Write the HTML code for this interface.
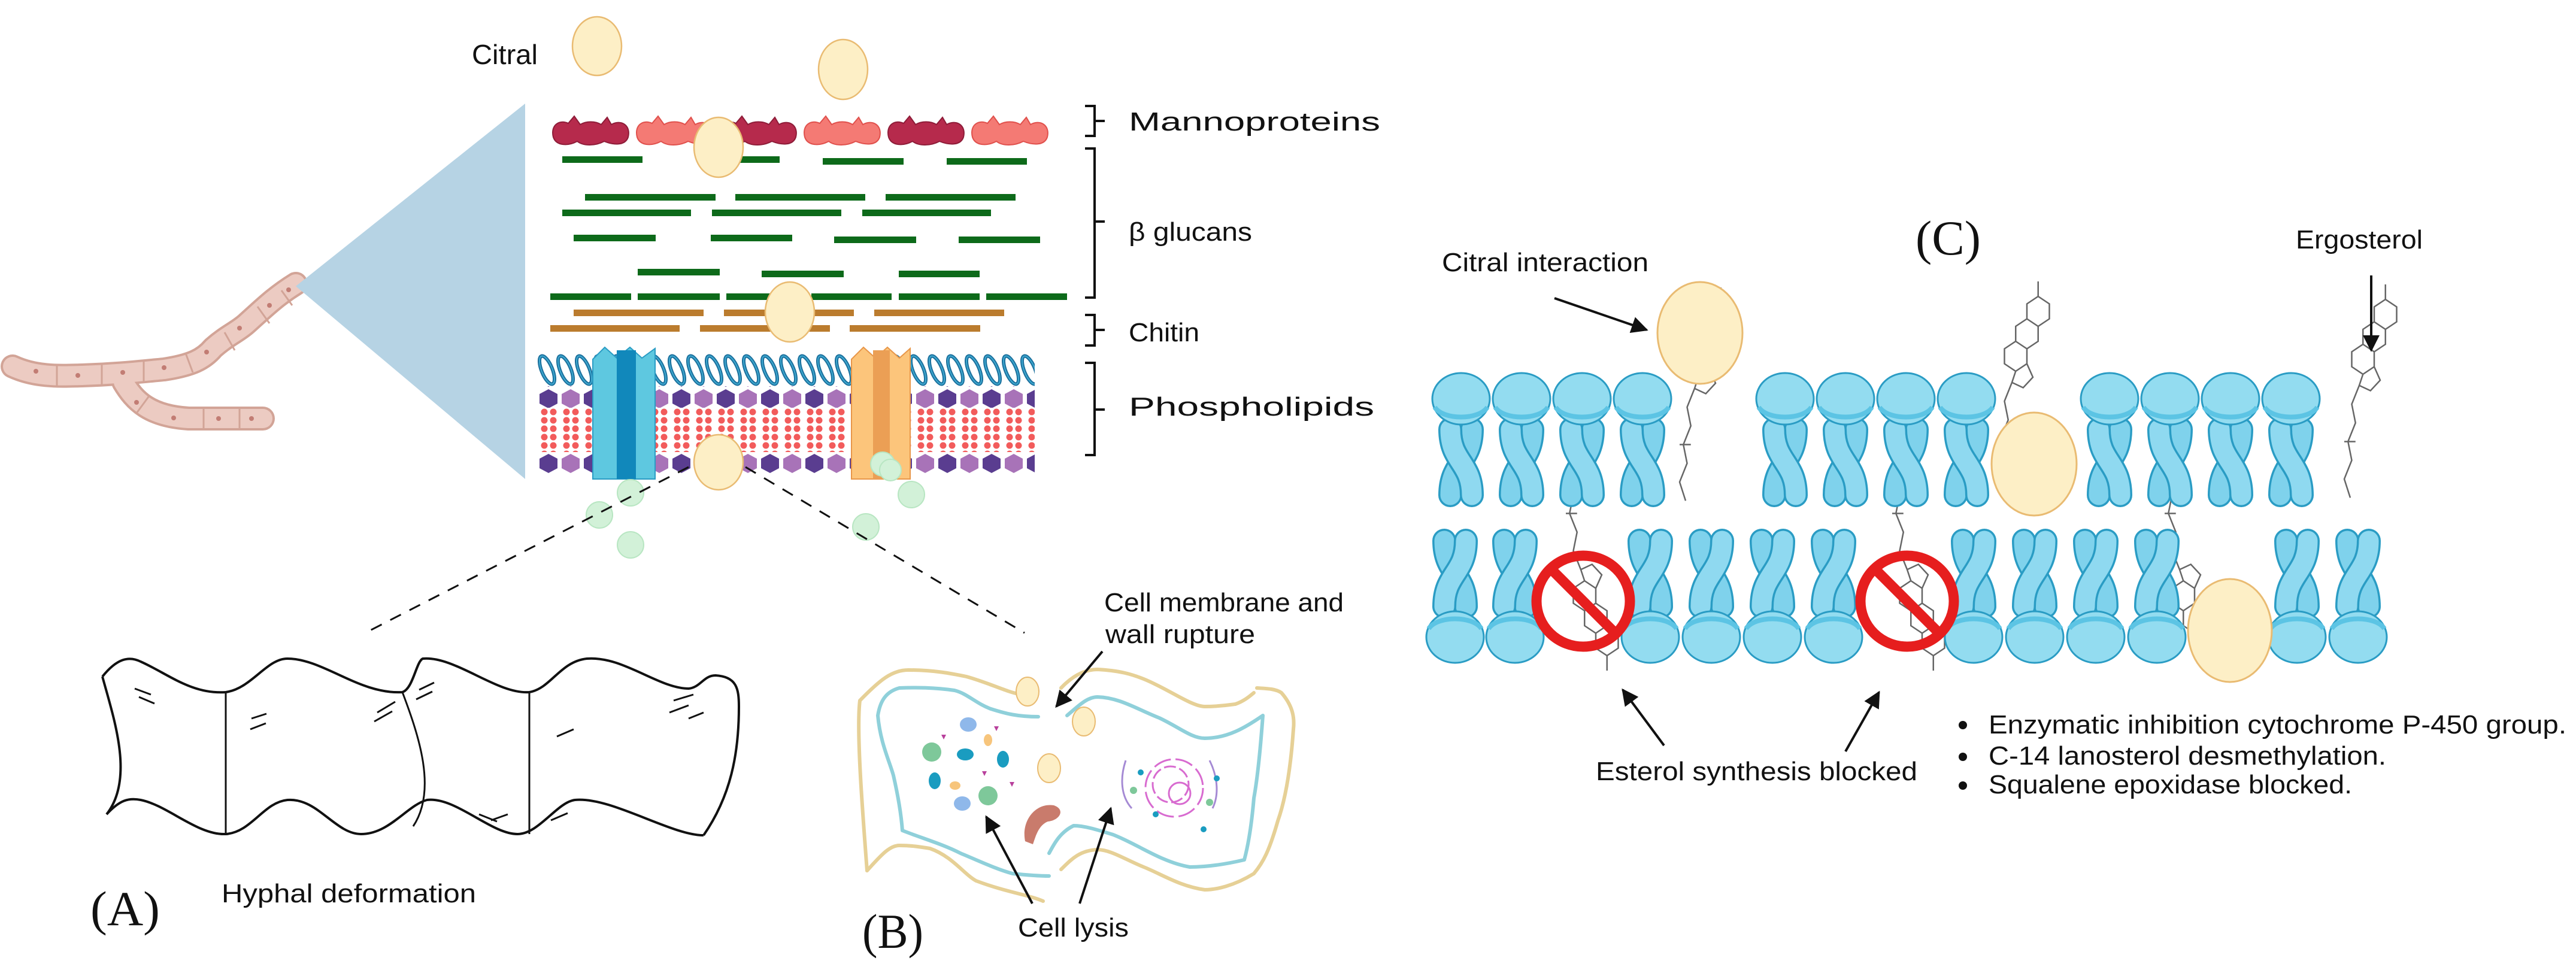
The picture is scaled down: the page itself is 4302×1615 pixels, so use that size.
<!DOCTYPE html>
<html><head><meta charset="utf-8"><style>
html,body{margin:0;padding:0;background:#fff}
svg{display:block}
text{font-family:"Liberation Sans",sans-serif;fill:#111}
.sr{font-family:"Liberation Serif",serif}
</style></head><body>
<svg width="4302" height="1615" viewBox="0 0 4302 1615" xmlns="http://www.w3.org/2000/svg">
<defs>
<marker id="ah" viewBox="0 0 10 10" refX="9" refY="5" markerWidth="7" markerHeight="7" orient="auto" markerUnits="strokeWidth"><path d="M0,0 L10,5 L0,10 Z" fill="#111"/></marker>
<g id="lip">
<path d="M68,95 C68,150 32,150 32,205" stroke="#2a9cc4" stroke-width="40" stroke-linecap="round" fill="none"/>
<path d="M68,95 C68,150 32,150 32,205" stroke="#7fd2ec" stroke-width="33" stroke-linecap="round" fill="none"/>
<path d="M32,95 C32,150 68,150 68,205" stroke="#2a9cc4" stroke-width="40" stroke-linecap="round" fill="none"/>
<path d="M32,95 C32,150 68,150 68,205" stroke="#8fd9f0" stroke-width="33" stroke-linecap="round" fill="none"/>
<ellipse cx="50" cy="44" rx="48" ry="43" fill="#93dcf0" stroke="#2a9cc4" stroke-width="3"/>
<path d="M6,58 C20,80 80,80 94,58" fill="none" stroke="#5cc4e4" stroke-width="8"/>
</g>
<g id="ster" stroke="#666" stroke-width="2" fill="none">
<path d="M20,30 L35,20 L50,30 L50,50 L35,60 L20,50 Z M20,50 L35,60 L35,80 L20,90 L5,80 L5,60 Z M5,80 L20,90 L20,110 L5,120 L-10,110 L-10,90 Z M5,120 L20,110 L28,128 L15,142 L0,135 Z M0,135 L-10,160 L-5,185 L-15,210 L-10,235 L-20,260 L-12,285 M35,20 L35,0 M-20,210 L-5,210"/>
</g>
<g id="mp"><path d="M5,35 C0,15 15,5 30,12 L40,0 L50,14 C60,8 75,8 85,14 L95,2 L102,14 C118,5 135,15 130,35 C125,50 105,48 90,42 C75,50 55,50 45,42 C30,50 10,50 5,35 Z"/></g>
<pattern id="coil" width="31" height="56" patternUnits="userSpaceOnUse" x="898" y="590">
<ellipse cx="15.5" cy="28" rx="9" ry="25" transform="rotate(-22 15.5 28)" fill="none" stroke="#1b6f9c" stroke-width="6"/>
<ellipse cx="15.5" cy="28" rx="9" ry="25" transform="rotate(-22 15.5 28)" fill="none" stroke="#3fa9d0" stroke-width="2"/>
</pattern>
<pattern id="hex" width="74" height="36" patternUnits="userSpaceOnUse" x="898" y="0">
<polygon points="18,2 33,10 33,26 18,34 3,26 3,10" fill="#5a3d90"/>
<polygon points="55,2 70,10 70,26 55,34 40,26 40,10" fill="#a873b8"/>
</pattern>
<pattern id="dots" width="37" height="14" patternUnits="userSpaceOnUse" x="898" y="681">
<circle cx="11" cy="7" r="5.5" fill="#f25b5b"/><circle cx="26" cy="7" r="5.5" fill="#f25b5b"/>
</pattern>
</defs>

<!-- hypha -->
<g fill="none" stroke-linecap="round" stroke-linejoin="round">
<path d="M206,638 C225,670 250,695 315,699 L439,699" stroke="#d2a497" stroke-width="40"/>
<path d="M21,612 C60,630 100,628 137,627 C200,625 240,620 274,617 C320,610 340,600 356,581 C380,560 395,555 411,541 C440,515 460,495 494,474" stroke="#d2a497" stroke-width="40"/>
<path d="M206,638 C225,670 250,695 315,699 L439,699" stroke="#eccbc2" stroke-width="32"/>
<path d="M21,612 C60,630 100,628 137,627 C200,625 240,620 274,617 C320,610 340,600 356,581 C380,560 395,555 411,541 C440,515 460,495 494,474" stroke="#eccbc2" stroke-width="32"/>
</g>
<g stroke="#d2a497" stroke-width="3">
<path d="M95,610 L95,645 M170,608 L170,642 M240,604 L240,638 M310,590 L322,622 M375,555 L392,585 M430,512 L450,540 M470,485 L488,510 M250,660 L228,690 M340,682 L340,716 M400,682 L400,716"/>
</g>
<g fill="#c27d74"><circle cx="60" cy="620" r="4"/><circle cx="130" cy="627" r="4"/><circle cx="205" cy="622" r="4"/><circle cx="274" cy="614" r="4"/><circle cx="345" cy="588" r="4"/><circle cx="400" cy="548" r="4"/><circle cx="450" cy="510" r="4"/><circle cx="482" cy="484" r="4"/><circle cx="228" cy="672" r="4"/><circle cx="290" cy="698" r="4"/><circle cx="365" cy="699" r="4"/><circle cx="420" cy="699" r="4"/></g>

<!-- triangle -->
<polygon points="494,478 877,173 877,800" fill="#b6d3e4"/>

<!-- mannoproteins -->
<g stroke-width="2">
<use href="#mp" x="919" y="194" fill="#b62a4c" stroke="#8e1c38"/>
<use href="#mp" x="1059" y="194" fill="#f47a74" stroke="#e0504c"/>
<use href="#mp" x="1199" y="194" fill="#b62a4c" stroke="#8e1c38"/>
<use href="#mp" x="1339" y="194" fill="#f47a74" stroke="#e0504c"/>
<use href="#mp" x="1479" y="194" fill="#b62a4c" stroke="#8e1c38"/>
<use href="#mp" x="1619" y="194" fill="#f47a74" stroke="#e0504c"/>
</g>

<!-- glucans -->
<g fill="#0d6a1a">
<rect x="939" y="261" width="134" height="11"/><rect x="1165" y="261" width="137" height="11"/><rect x="1374" y="264" width="135" height="11"/><rect x="1581" y="264" width="134" height="11"/>
<rect x="977" y="324" width="218" height="11"/><rect x="1228" y="324" width="217" height="11"/><rect x="1479" y="324" width="217" height="11"/>
<rect x="939" y="350" width="215" height="11"/><rect x="1189" y="350" width="216" height="11"/><rect x="1440" y="350" width="215" height="11"/>
<rect x="958" y="392" width="137" height="11"/><rect x="1187" y="392" width="136" height="11"/><rect x="1393" y="395" width="137" height="11"/><rect x="1601" y="395" width="136" height="11"/>
<rect x="1065" y="449" width="137" height="11"/><rect x="1272" y="452" width="137" height="11"/><rect x="1501" y="452" width="135" height="11"/>
<rect x="919" y="490" width="135" height="11"/><rect x="1065" y="490" width="137" height="11"/><rect x="1213" y="490" width="137" height="11"/><rect x="1355" y="490" width="134" height="11"/><rect x="1501" y="490" width="135" height="11"/><rect x="1647" y="490" width="135" height="11"/>
</g>
<g fill="#bb7c2e">
<rect x="958" y="517" width="217" height="11"/><rect x="1209" y="517" width="217" height="11"/><rect x="1460" y="517" width="217" height="11"/>
<rect x="919" y="543" width="216" height="11"/><rect x="1169" y="543" width="217" height="11"/><rect x="1419" y="543" width="218" height="11"/>
</g>

<!-- phospholipids -->
<rect x="898" y="590" width="830" height="56" fill="url(#coil)"/>
<rect x="898" y="645" width="830" height="36" fill="url(#hex)"/>
<rect x="898" y="681" width="830" height="74" fill="url(#dots)"/>
<rect x="898" y="757" width="830" height="36" fill="url(#hex)"/>
<!-- channels -->
<path d="M990,600 L1010,580 L1030,598 L1052,580 L1072,598 L1094,582 L1094,800 L990,800 Z" fill="#5ec8e0" stroke="#2a9cc4" stroke-width="2"/>
<rect x="1030" y="585" width="32" height="215" fill="#1188bb"/>
<path d="M1422,600 L1442,580 L1462,598 L1482,580 L1502,598 L1520,582 L1520,800 L1422,800 Z" fill="#fcc57b" stroke="#e8974a" stroke-width="2"/>
<rect x="1458" y="585" width="28" height="215" fill="#eb9f55"/>

<!-- brackets -->
<g stroke="#111" stroke-width="4" fill="none">
<path d="M1812,177 H1828 V227 H1812 M1828,202 H1845"/>
<path d="M1812,248 H1828 V497 H1812 M1828,370 H1845"/>
<path d="M1812,526 H1828 V577 H1812 M1828,551 H1845"/>
<path d="M1812,606 H1828 V760 H1812 M1828,684 H1845"/>
</g>
<text x="1885" y="218" font-size="44" textLength="420" lengthAdjust="spacingAndGlyphs">Mannoproteins</text>
<text x="1885" y="402" font-size="44" textLength="206" lengthAdjust="spacingAndGlyphs">β glucans</text>
<text x="1885" y="570" font-size="44" textLength="118" lengthAdjust="spacingAndGlyphs">Chitin</text>
<text x="1885" y="694" font-size="44" textLength="410" lengthAdjust="spacingAndGlyphs">Phospholipids</text>
<text x="788" y="107" font-size="46" textLength="110" lengthAdjust="spacingAndGlyphs">Citral</text>

<!-- green circles -->
<g fill="#d2f1d8" stroke="#b8e6c2" stroke-width="2">
<circle cx="1053" cy="823" r="22"/><circle cx="1001" cy="860" r="22"/><circle cx="1053" cy="910" r="22"/>
<circle cx="1522" cy="826" r="22"/><circle cx="1446" cy="880" r="22"/><circle cx="1474" cy="775" r="20"/><circle cx="1487" cy="785" r="18"/>
</g>

<!-- citral ovals A/B -->
<g fill="#fdefc6" stroke="#e9bb72" stroke-width="2.5">
<ellipse cx="997" cy="77" rx="41" ry="49"/>
<ellipse cx="1408" cy="116" rx="41" ry="50"/>
<ellipse cx="1200" cy="246" rx="41" ry="50"/>
<ellipse cx="1319" cy="521" rx="41" ry="50"/>
<ellipse cx="1200" cy="772" rx="41" ry="46"/>
</g>

<!-- dashed -->
<g stroke="#111" stroke-width="3" stroke-dasharray="20 16" fill="none">
<path d="M1150,780 L610,1057"/>
<path d="M1245,780 L1711,1057"/>
</g>

<!-- hypha A -->
<g fill="none" stroke="#111" stroke-width="4" stroke-linejoin="round">
<path d="M171,1130 C195,1100 215,1095 235,1105 C280,1125 320,1160 377,1156 C420,1150 445,1100 480,1100 C540,1100 600,1160 672,1156 C690,1150 695,1105 706,1100 C760,1095 830,1160 884,1156 C920,1150 935,1105 980,1100 C1040,1095 1100,1150 1150,1150 C1170,1148 1175,1128 1195,1128 C1230,1130 1234,1150 1234,1180 C1234,1260 1220,1330 1175,1395"/>
<path d="M178,1360 C200,1336 215,1332 235,1336 C280,1345 330,1395 377,1393 C420,1390 440,1340 480,1336 C530,1332 560,1393 603,1393 C650,1393 680,1345 713,1336 C760,1330 820,1393 864,1393 C900,1393 930,1340 960,1336 C1020,1330 1120,1395 1175,1395"/>
<path d="M171,1130 C190,1200 225,1300 178,1360"/>
<path d="M377,1156 L377,1393" stroke-width="3"/>
<path d="M672,1156 C700,1230 730,1320 690,1380" stroke-width="3"/>
<path d="M884,1156 L884,1393" stroke-width="3"/>
</g>
<g stroke="#111" stroke-width="3">
<path d="M225,1150 L252,1160 M232,1164 L258,1175 M420,1200 L445,1192 M418,1218 L444,1208 M630,1190 L660,1172 M625,1205 L655,1188 M700,1152 L725,1140 M695,1168 L722,1155 M930,1230 L958,1218 M1125,1170 L1158,1160 M1118,1190 L1150,1178 M1150,1200 L1175,1190 M920,1370 L948,1358 M820,1370 L848,1360 M800,1360 L830,1372"/>
</g>
<text class="sr" x="151" y="1545" font-size="82" textLength="116" lengthAdjust="spacingAndGlyphs">(A)</text>
<text x="370" y="1507" font-size="44" textLength="425" lengthAdjust="spacingAndGlyphs">Hyphal deformation</text>

<!-- cell B -->
<g fill="none" stroke-width="6" stroke-linecap="round" stroke-linejoin="round">
<path stroke="#e6d096" d="M1448,1454 C1440,1350 1430,1220 1436,1170 C1470,1135 1490,1119 1517,1119 C1560,1119 1590,1125 1614,1130 C1650,1140 1680,1155 1701,1159"/>
<path stroke="#e6d096" d="M1772,1149 C1790,1130 1810,1118 1833,1118 C1870,1120 1890,1126 1910,1134 C1950,1150 1990,1180 2012,1180 C2040,1180 2060,1176 2063,1176 C2080,1170 2090,1160 2094,1157"/>
<path stroke="#e6d096" d="M2099,1149 C2115,1150 2130,1150 2140,1157 C2160,1180 2162,1200 2160,1218 C2155,1290 2145,1340 2134,1371 C2120,1420 2110,1440 2094,1459 C2060,1480 2030,1486 2012,1486 C1970,1480 1940,1460 1910,1448 C1880,1436 1855,1419 1833,1419 C1800,1420 1785,1440 1772,1452"/>
<path stroke="#e6d096" d="M1448,1454 C1470,1430 1485,1412 1502,1412 C1525,1412 1540,1415 1553,1417 C1590,1430 1610,1460 1630,1471 C1680,1490 1720,1495 1742,1505"/>
<path stroke="#8fd0da" d="M1734,1197 C1700,1197 1680,1192 1655,1184 C1630,1175 1615,1158 1594,1153 C1560,1148 1530,1148 1502,1149 C1480,1155 1470,1170 1466,1195 C1470,1240 1485,1270 1492,1295 C1500,1330 1505,1360 1507,1387 C1540,1400 1575,1410 1604,1425 C1640,1440 1665,1452 1691,1459 C1720,1462 1740,1463 1752,1463"/>
<path stroke="#8fd0da" d="M1782,1195 C1800,1180 1815,1164 1833,1164 C1870,1165 1900,1185 1936,1199 C1970,1215 1990,1233 2012,1233 C2050,1233 2080,1215 2109,1195 C2105,1250 2100,1300 2094,1333 C2090,1380 2085,1410 2078,1436 C2040,1445 2010,1448 1987,1448 C1940,1440 1900,1410 1859,1394 C1830,1385 1810,1379 1793,1379 C1770,1390 1760,1410 1752,1425"/>
</g>
<g fill="#fdefc6" stroke="#e9bb72" stroke-width="2">
<ellipse cx="1716" cy="1155" rx="19" ry="24"/><ellipse cx="1810" cy="1205" rx="19" ry="24"/><ellipse cx="1752" cy="1283" rx="19" ry="24"/>
</g>
<g>
<ellipse cx="1556" cy="1256" rx="16" ry="16" fill="#7ec89a"/>
<ellipse cx="1650" cy="1329" rx="16" ry="16" fill="#7ec89a"/>
<ellipse cx="1617" cy="1210" rx="14" ry="12" fill="#8fb8ea"/>
<ellipse cx="1607" cy="1342" rx="14" ry="12" fill="#8fb8ea"/>
<ellipse cx="1612" cy="1260" rx="14" ry="10" fill="#1a9cc0"/>
<ellipse cx="1675" cy="1268" rx="10" ry="14" fill="#1a9cc0"/>
<ellipse cx="1561" cy="1304" rx="10" ry="14" fill="#1a9cc0"/>
<ellipse cx="1650" cy="1236" rx="7" ry="10" fill="#f7c57c"/>
<ellipse cx="1595" cy="1312" rx="9" ry="7" fill="#f7c57c"/>
<path d="M1572,1227 l8,0 l-4,8Z M1660,1213 l8,0 l-4,8Z M1640,1288 l8,0 l-4,8Z M1686,1306 l8,0 l-4,8Z" fill="#b8409c"/>
<path d="M1712,1405 C1705,1370 1730,1340 1760,1345 C1780,1352 1770,1370 1750,1372 C1735,1378 1730,1395 1725,1410 Z" fill="#c97b6c"/>
<circle cx="1961" cy="1316" r="48" fill="none" stroke="#d86bd0" stroke-width="3" stroke-dasharray="30 8"/>
<circle cx="1955" cy="1310" r="30" fill="none" stroke="#d86bd0" stroke-width="3" stroke-dasharray="20 6"/>
<circle cx="1970" cy="1325" r="18" fill="none" stroke="#d86bd0" stroke-width="3"/>
<path d="M1880,1270 C1870,1300 1872,1330 1890,1350 M2020,1270 C2035,1300 2035,1330 2025,1350" stroke="#a58ad4" stroke-width="3" fill="none"/>
<circle cx="1905" cy="1290" r="5" fill="#1a9cc0"/><circle cx="2032" cy="1300" r="5" fill="#1a9cc0"/><circle cx="1930" cy="1360" r="5" fill="#1a9cc0"/><circle cx="2010" cy="1385" r="5" fill="#1a9cc0"/>
<circle cx="1893" cy="1320" r="6" fill="#7ec89a"/><circle cx="2020" cy="1340" r="6" fill="#7ec89a"/>
</g>
<g stroke="#111" stroke-width="4" fill="none" marker-end="url(#ah)">
<path d="M1841,1088 L1764,1180"/>
<path d="M1724,1509 L1647,1364"/>
<path d="M1803,1509 L1855,1350"/>
</g>
<text x="1844" y="1021" font-size="44" textLength="400" lengthAdjust="spacingAndGlyphs">Cell membrane and</text>
<text x="1846" y="1074" font-size="44" textLength="250" lengthAdjust="spacingAndGlyphs">wall rupture</text>
<text class="sr" x="1440" y="1583" font-size="82" textLength="102" lengthAdjust="spacingAndGlyphs">(B)</text>
<text x="1700" y="1564" font-size="44" textLength="185" lengthAdjust="spacingAndGlyphs">Cell lysis</text>

<!-- panel C -->
<text class="sr" x="3199" y="425" font-size="82" textLength="109" lengthAdjust="spacingAndGlyphs">(C)</text>
<text x="2408" y="453" font-size="44" textLength="345" lengthAdjust="spacingAndGlyphs">Citral interaction</text>
<text x="3834" y="415" font-size="44" textLength="212" lengthAdjust="spacingAndGlyphs">Ergosterol</text>

<!-- sterols -->
<use href="#ster" transform="translate(2830,480) scale(1.25)"/>
<use href="#ster" transform="translate(3360,470) scale(1.25)"/>
<use href="#ster" transform="translate(3940,475) scale(1.25)"/>
<use href="#ster" transform="translate(2640,1120) scale(1.25,-1.25)"/>
<use href="#ster" transform="translate(3185,1120) scale(1.25,-1.25)"/>
<use href="#ster" transform="translate(3640,1120) scale(1.25,-1.25)"/>

<!-- upper leaflet -->
<use href="#lip" x="2390" y="622"/><use href="#lip" x="2491" y="622"/><use href="#lip" x="2592" y="622"/><use href="#lip" x="2693" y="622"/>
<use href="#lip" x="2931" y="622"/><use href="#lip" x="3032" y="622"/><use href="#lip" x="3133" y="622"/><use href="#lip" x="3234" y="622"/>
<use href="#lip" x="3473" y="622"/><use href="#lip" x="3574" y="622"/><use href="#lip" x="3675" y="622"/><use href="#lip" x="3776" y="622"/>
<!-- lower leaflet -->
<g>
<use href="#lip" transform="translate(2380,1108) scale(1,-1)"/>
<use href="#lip" transform="translate(2480,1108) scale(1,-1)"/>
<use href="#lip" transform="translate(2706,1108) scale(1,-1)"/>
<use href="#lip" transform="translate(2808,1108) scale(1,-1)"/>
<use href="#lip" transform="translate(2910,1108) scale(1,-1)"/>
<use href="#lip" transform="translate(3012,1108) scale(1,-1)"/>
<use href="#lip" transform="translate(3246,1108) scale(1,-1)"/>
<use href="#lip" transform="translate(3348,1108) scale(1,-1)"/>
<use href="#lip" transform="translate(3450,1108) scale(1,-1)"/>
<use href="#lip" transform="translate(3552,1108) scale(1,-1)"/>
<use href="#lip" transform="translate(3786,1108) scale(1,-1)"/>
<use href="#lip" transform="translate(3888,1108) scale(1,-1)"/>
</g>

<!-- citral C -->
<g fill="#fdefc6" stroke="#e9bb72" stroke-width="3">
<ellipse cx="2839" cy="556" rx="71" ry="85"/>
<ellipse cx="3397" cy="775" rx="71" ry="86"/>
<ellipse cx="3724" cy="1053" rx="70" ry="86"/>
</g>

<!-- no signs -->
<g fill="none" stroke="#e61e1e" stroke-width="17">
<ellipse cx="2644" cy="1004" rx="78" ry="76"/><path d="M2590,950 L2698,1058"/>
<ellipse cx="3185" cy="1004" rx="78" ry="76"/><path d="M3131,950 L3239,1058"/>
</g>

<!-- arrows C -->
<g stroke="#111" stroke-width="4" fill="none" marker-end="url(#ah)">
<path d="M2596,498 L2750,551"/>
<path d="M3960,460 L3960,585"/>
<path d="M2779,1245 L2710,1152"/>
<path d="M3082,1255 L3138,1156"/>
</g>
<text x="2665" y="1303" font-size="44" textLength="537" lengthAdjust="spacingAndGlyphs">Esterol synthesis blocked</text>
<g fill="#111"><circle cx="3278" cy="1211" r="7"/><circle cx="3278" cy="1264" r="7"/><circle cx="3278" cy="1312" r="7"/></g>
<text x="3321" y="1225" font-size="44" textLength="965" lengthAdjust="spacingAndGlyphs">Enzymatic inhibition cytochrome P-450 group.</text>
<text x="3321" y="1277" font-size="44" textLength="664" lengthAdjust="spacingAndGlyphs">C-14 lanosterol desmethylation.</text>
<text x="3321" y="1325" font-size="44" textLength="607" lengthAdjust="spacingAndGlyphs">Squalene epoxidase blocked.</text>
</svg>
</body></html>
